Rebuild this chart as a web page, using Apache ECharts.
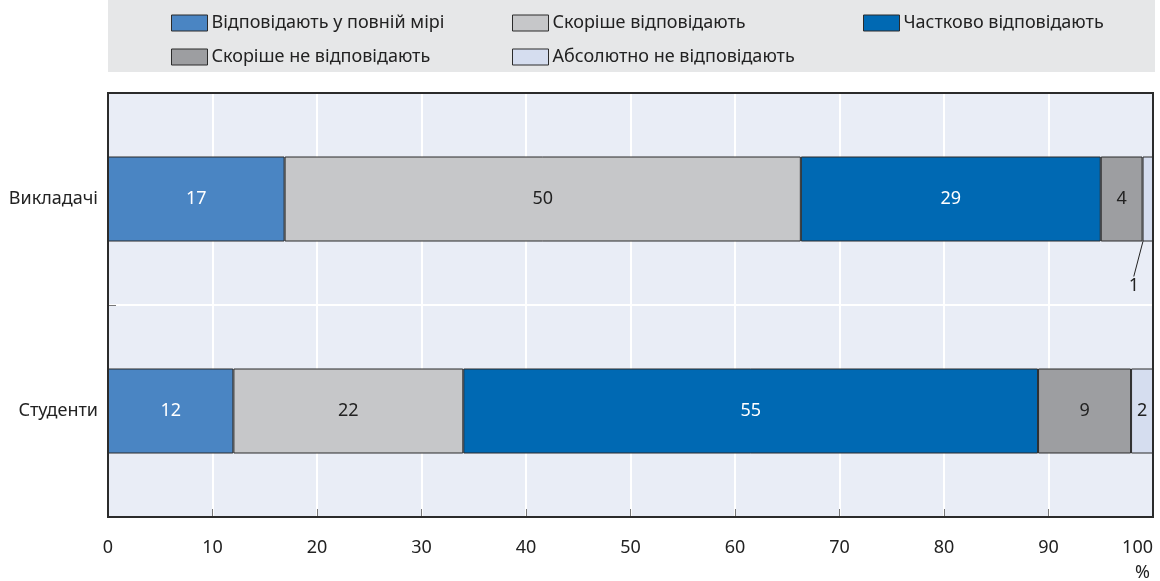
<!DOCTYPE html>
<html><head><meta charset="utf-8">
<script src="https://cdn.jsdelivr.net/npm/echarts@6/dist/echarts.min.js"></script>
<style>html,body{margin:0;padding:0;background:#fff;overflow:hidden}#c{width:1160px;height:581px}</style>
</head><body><div id="c"></div>
<script>
var categories = ['Викладачі', 'Студенти'];
var seriesNames = ['Відповідають у повній мірі', 'Скоріше відповідають', 'Частково відповідають', 'Скоріше не відповідають', 'Абсолютно не відповідають'];
var teachersValues = [16.9, 49.4, 28.7, 4.0, 1.0];
var studentsValues = [12.0, 22.0, 55.0, 8.9, 2.1];
var teachersLabels = ['17', '50', '29', '4', '1'];
var studentsLabels = ['12', '22', '55', '9', '2'];
var xTicks = [0, 10, 20, 30, 40, 50, 60, 70, 80, 90, 100];

var colors = ['#4a85c3', '#c6c7c9', '#0069b3', '#9d9ea1', '#d5ddef'];
var labelColors = ['#ffffff', '#222222', '#ffffff', '#222222', '#222222'];
var FONT = 'Noto Sans';
var FS = 18;
var G = {left: 108, right: 7, top: 93, bottom: 64, W: 1160, H: 581};

var chart = echarts.init(document.getElementById('c'), null, {renderer: 'canvas'});

var series = seriesNames.map(function (name, i) {
  var tItem = {value: teachersValues[i], labelText: teachersLabels[i]};
  var sItem = {value: studentsValues[i], labelText: studentsLabels[i]};
  if (i === 4) {
    tItem.label = {position: 'bottom'};
    tItem.labelLine = {show: true, lineStyle: {color: '#222', width: 1}};
  }
  return {
    name: name,
    type: 'bar',
    stack: 'total',
    barWidth: 85,
    data: [tItem, sItem],
    itemStyle: {color: colors[i], borderColor: '#2b2b2b', borderWidth: 1},
    label: {
      show: true,
      position: 'inside',
      color: labelColors[i],
      fontFamily: FONT,
      fontSize: FS,
      formatter: function (p) { return p.data.labelText; }
    },
    labelLayout: function (p) {
      if (p.seriesIndex === 4 && p.dataIndex === 0) {
        return {dx: -14, dy: 30};
      }
      return {};
    },
    emphasis: {disabled: true}
  };
});

var legendCommon = {
  orient: 'vertical',
  itemWidth: 36,
  itemHeight: 16,
  itemGap: 16,
  top: 14,
  padding: 0,
  icon: 'rect',
  selectedMode: false,
  textStyle: {fontFamily: FONT, fontSize: FS, lineHeight: 18, color: '#222', padding: [0, 0, 0, -1]},
  itemStyle: {borderColor: '#2b2b2b', borderWidth: 1}
};

var option = {
  animation: false,
  color: colors,
  graphic: [
    {type: 'rect', z: -10, shape: {x: G.left, y: 0, width: G.W - G.left - G.right + 2, height: 72}, style: {fill: '#e6e7e8'}},
    {type: 'rect', z: 100, silent: true,
     shape: {x: G.left, y: G.top, width: G.W - G.left - G.right, height: G.H - G.top - G.bottom},
     style: {fill: 'none', stroke: '#2b2b2b', lineWidth: 2}},
    {type: 'text', right: 10, top: 564, style: {text: '%', fontFamily: FONT, fontSize: FS, fill: '#222'}}
  ],
  legend: [
    Object.assign({}, legendCommon, {left: 171, data: [seriesNames[0], seriesNames[3]]}),
    Object.assign({}, legendCommon, {left: 512, data: [seriesNames[1], seriesNames[4]]}),
    Object.assign({}, legendCommon, {left: 863, data: [seriesNames[2]]})
  ],
  grid: {
    left: G.left, right: G.right, top: G.top, bottom: G.bottom,
    outerBoundsMode: 'none', containLabel: false,
    show: true, backgroundColor: '#e9edf6', borderWidth: 0
  },
  xAxis: {
    type: 'value', min: 0, max: 100, interval: 10,
    axisLine: {show: true, lineStyle: {color: '#2b2b2b', width: 2}},
    axisTick: {show: true, inside: true, length: 8, lineStyle: {color: '#777'}},
    splitLine: {show: true, lineStyle: {color: '#ffffff', width: 2}},
    axisLabel: {
      fontFamily: FONT, fontSize: FS, color: '#222', margin: 22, alignMaxLabel: 'right',
      formatter: function (v) { return xTicks.indexOf(v) >= 0 ? String(v) : ''; }
    }
  },
  yAxis: {
    type: 'category', data: categories, inverse: true,
    axisLine: {show: true, lineStyle: {color: '#2b2b2b', width: 2}},
    axisTick: {show: true, inside: true, length: 8, lineStyle: {color: '#777'}},
    splitLine: {show: true, lineStyle: {color: '#ffffff', width: 2}},
    axisLabel: {fontFamily: FONT, fontSize: FS, color: '#222', margin: 10}
  },
  series: series
};
chart.setOption(option);
</script>
</body></html>
